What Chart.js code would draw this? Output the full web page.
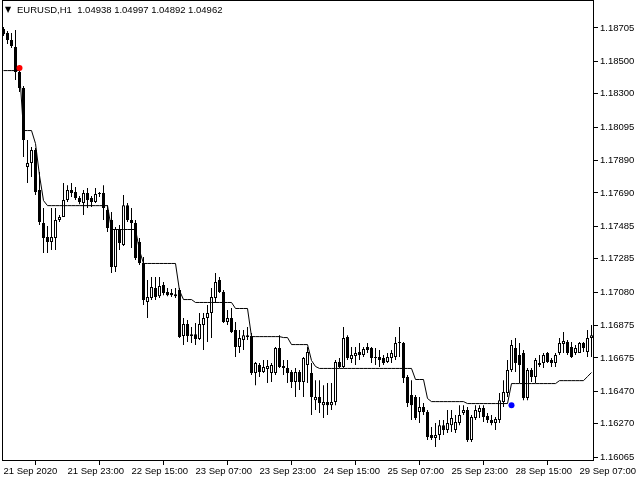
<!DOCTYPE html>
<html><head><meta charset="utf-8">
<script src="https://cdn.jsdelivr.net/npm/chart.js"></script>
<style>
html,body{margin:0;padding:0;background:#fff;}
#wrap{position:relative;width:640px;height:480px;overflow:hidden;}
#c{position:absolute;left:0;top:0;}
.hd{position:absolute;top:4px;line-height:12px;font-family:'Liberation Sans',Arial,sans-serif;font-size:9.5px;color:#000;white-space:pre;}
</style></head><body>
<div id="wrap">
<canvas id="c" width="640" height="480"></canvas>
<div class="hd" style="left:5px;font-family:'DejaVu Sans';font-size:8px;">▼</div>
<div class="hd" style="left:17px;">EURUSD,H1  1.04938 1.04997 1.04892 1.04962</div>
</div>
<script>
// ---- data (EURUSD H1, bars 0..147) ----
const xTickBars   = [0,16,32,48,64,80,96,112,128,144];
const xTickLabels = ['21 Sep 2020','21 Sep 23:00','22 Sep 15:00','23 Sep 07:00','23 Sep 23:00','24 Sep 15:00','25 Sep 07:00','25 Sep 23:00','28 Sep 15:00','29 Sep 07:00'];
const yTickValues = [1.16065,1.16270,1.16470,1.16675,1.16875,1.17080,1.17285,1.17485,1.17690,1.17890,1.18095,1.18300,1.18500,1.18705];

const openP = [1.18699,1.18674,1.18631,1.18588,1.18434,1.18336,1.17849,1.17874,1.17954,1.17708,
1.17505,1.17419,1.17388,1.17413,1.17523,1.17542,1.17646,1.17708,1.17696,1.17659,
1.17628,1.17690,1.17659,1.17634,1.17683,1.17690,1.17585,1.17523,1.17234,1.17462,
1.17369,1.17615,1.17523,1.17505,1.17388,1.17259,1.17019,1.17043,1.17105,1.17055,
1.17123,1.17080,1.17074,1.17067,1.17092,1.16809,1.16883,1.16821,1.16821,1.16791,
1.16877,1.16920,1.16951,1.17043,1.17154,1.17080,1.16896,1.16920,1.16846,1.16742,
1.16785,1.16815,1.16809,1.16582,1.16631,1.16588,1.16607,1.16582,1.16582,1.16736,
1.16625,1.16613,1.16588,1.16526,1.16588,1.16526,1.16631,1.16582,1.16415,1.16434,
1.16384,1.16403,1.16384,1.16403,1.16650,1.16619,1.16803,1.16668,1.16686,1.16711,
1.16692,1.16742,1.16736,1.16680,1.16680,1.16674,1.16650,1.16674,1.16680,1.16767,
1.16767,1.16557,1.16446,1.16434,1.16342,1.16372,1.16342,1.16200,1.16182,1.16200,
1.16261,1.16231,1.16261,1.16231,1.16274,1.16336,1.16354,1.16169,1.16305,1.16342,
1.16366,1.16317,1.16292,1.16274,1.16292,1.16403,1.16459,1.16600,1.16736,1.16692,
1.16705,1.16428,1.16600,1.16557,1.16631,1.16644,1.16705,1.16662,1.16644,1.16705,
1.16760,1.16773,1.16742,1.16705,1.16705,1.16767,1.16711,1.16797];

const highP = [1.18711,1.18686,1.18674,1.18692,1.18477,1.18348,1.18015,1.17972,1.17966,1.17819,
1.17597,1.17486,1.17597,1.17597,1.17554,1.17751,1.17738,1.17751,1.17726,1.17671,
1.17708,1.17720,1.17671,1.17720,1.17696,1.17738,1.17615,1.17573,1.17480,1.17492,
1.17677,1.17628,1.17597,1.17523,1.17413,1.17296,1.17154,1.17172,1.17172,1.17172,
1.17142,1.17105,1.17099,1.17105,1.17105,1.16920,1.16908,1.16865,1.16890,1.16951,
1.16951,1.17000,1.17105,1.17197,1.17172,1.17092,1.16969,1.16982,1.16896,1.16846,
1.16846,1.16865,1.16828,1.16650,1.16644,1.16662,1.16662,1.16644,1.16742,1.16815,
1.16662,1.16662,1.16600,1.16613,1.16600,1.16680,1.16742,1.16644,1.16538,1.16538,
1.16507,1.16520,1.16520,1.16662,1.16674,1.16865,1.16815,1.16742,1.16742,1.16767,
1.16742,1.16767,1.16742,1.16736,1.16723,1.16692,1.16705,1.16723,1.16803,1.16865,
1.16773,1.16569,1.16538,1.16446,1.16434,1.16397,1.16354,1.16249,1.16274,1.16292,
1.16292,1.16354,1.16354,1.16323,1.16384,1.16384,1.16372,1.16323,1.16384,1.16384,
1.16384,1.16336,1.16323,1.16311,1.16459,1.16538,1.16662,1.16785,1.16797,1.16767,
1.16723,1.16613,1.16613,1.16674,1.16692,1.16705,1.16711,1.16674,1.16705,1.16797,
1.16834,1.16785,1.16773,1.16754,1.16773,1.16773,1.16846,1.16877];

const lowP = [1.18655,1.18606,1.18582,1.18385,1.18311,1.17911,1.17751,1.17788,1.17677,1.17492,
1.17320,1.17320,1.17339,1.17339,1.17511,1.17542,1.17634,1.17665,1.17646,1.17621,
1.17554,1.17597,1.17603,1.17628,1.17665,1.17523,1.17450,1.17197,1.17203,1.17339,
1.17363,1.17511,1.17351,1.17277,1.17246,1.17000,1.16920,1.17031,1.17031,1.17043,
1.17061,1.17055,1.17049,1.17043,1.16797,1.16754,1.16773,1.16767,1.16754,1.16785,
1.16723,1.16773,1.16797,1.17013,1.17074,1.16890,1.16877,1.16828,1.16680,1.16705,
1.16723,1.16785,1.16569,1.16507,1.16557,1.16582,1.16520,1.16526,1.16569,1.16613,
1.16569,1.16520,1.16489,1.16434,1.16477,1.16434,1.16520,1.16323,1.16354,1.16336,
1.16305,1.16323,1.16354,1.16384,1.16613,1.16613,1.16662,1.16644,1.16631,1.16662,
1.16680,1.16705,1.16644,1.16631,1.16619,1.16631,1.16644,1.16644,1.16662,1.16680,
1.16520,1.16372,1.16292,1.16292,1.16274,1.16323,1.16169,1.16169,1.16126,1.16169,
1.16200,1.16213,1.16219,1.16213,1.16261,1.16323,1.16157,1.16157,1.16292,1.16305,
1.16280,1.16274,1.16261,1.16231,1.16274,1.16372,1.16434,1.16588,1.16588,1.16520,
1.16415,1.16415,1.16526,1.16520,1.16619,1.16613,1.16644,1.16619,1.16619,1.16692,
1.16705,1.16692,1.16674,1.16692,1.16705,1.16711,1.16680,1.16680];

const closeP = [1.18667,1.18631,1.18594,1.18434,1.18336,1.18015,1.17874,1.17954,1.17696,1.17511,
1.17413,1.17388,1.17419,1.17523,1.17542,1.17646,1.17708,1.17690,1.17659,1.17634,
1.17690,1.17646,1.17634,1.17683,1.17690,1.17597,1.17474,1.17234,1.17468,1.17382,
1.17615,1.17523,1.17505,1.17290,1.17259,1.17031,1.17049,1.17111,1.17049,1.17117,
1.17074,1.17061,1.17061,1.17055,1.16803,1.16883,1.16809,1.16809,1.16791,1.16883,
1.16920,1.16951,1.17049,1.17142,1.17080,1.16896,1.16920,1.16834,1.16742,1.16797,
1.16815,1.16803,1.16582,1.16644,1.16588,1.16619,1.16625,1.16631,1.16736,1.16619,
1.16613,1.16582,1.16526,1.16588,1.16526,1.16674,1.16711,1.16434,1.16434,1.16397,
1.16403,1.16384,1.16403,1.16650,1.16619,1.16797,1.16674,1.16692,1.16705,1.16692,
1.16730,1.16723,1.16674,1.16674,1.16662,1.16644,1.16680,1.16705,1.16767,1.16773,
1.16551,1.16397,1.16384,1.16305,1.16372,1.16342,1.16188,1.16182,1.16200,1.16261,
1.16231,1.16274,1.16305,1.16280,1.16323,1.16354,1.16169,1.16311,1.16354,1.16366,
1.16311,1.16292,1.16274,1.16299,1.16415,1.16465,1.16600,1.16754,1.16644,1.16631,
1.16428,1.16600,1.16557,1.16662,1.16644,1.16692,1.16650,1.16644,1.16692,1.16767,
1.16779,1.16705,1.16680,1.16736,1.16767,1.16736,1.16797,1.16815];

const stopLine = [1.18446,1.18446,1.18446,1.18446,1.18446,1.18077,1.18077,1.18077,1.17997,1.17800,
1.17646,1.17615,1.17615,1.17615,1.17615,1.17615,1.17615,1.17615,1.17615,1.17615,
1.17615,1.17615,1.17615,1.17615,1.17615,1.17615,1.17615,1.17468,1.17468,1.17468,
1.17468,1.17468,1.17468,1.17468,1.17339,1.17259,1.17259,1.17259,1.17259,1.17259,
1.17259,1.17259,1.17259,1.17259,1.17092,1.17037,1.17037,1.17037,1.17019,1.17019,
1.17019,1.17019,1.17019,1.17019,1.17019,1.17019,1.17019,1.17019,1.16982,1.16982,
1.16982,1.16982,1.16809,1.16809,1.16809,1.16809,1.16809,1.16809,1.16809,1.16809,
1.16803,1.16803,1.16760,1.16760,1.16760,1.16760,1.16760,1.16662,1.16625,1.16613,
1.16613,1.16613,1.16613,1.16613,1.16613,1.16613,1.16613,1.16613,1.16613,1.16613,
1.16613,1.16613,1.16613,1.16613,1.16613,1.16613,1.16613,1.16613,1.16613,1.16613,
1.16613,1.16613,1.16613,1.16545,1.16545,1.16545,1.16428,1.16409,1.16409,1.16409,
1.16409,1.16409,1.16409,1.16409,1.16409,1.16409,1.16397,1.16397,1.16397,1.16397,
1.16397,1.16397,1.16397,1.16397,1.16397,1.16397,1.16397,1.16520,1.16520,1.16520,
1.16520,1.16520,1.16520,1.16520,1.16520,1.16520,1.16520,1.16520,1.16520,1.16538,
1.16538,1.16538,1.16538,1.16538,1.16538,1.16538,1.16563,1.16588];

const sellSignalBar = [4],   sellSignalPrice = [1.18459];
const buySignalBar  = [127], buySignalPrice  = [1.16384];

// ---- build datasets ----
const bars = openP.map((_, i) => i);
const bodies = bars.map(i => ({x: i, y: [openP[i], closeP[i]]}));
const wicks  = bars.map(i => ({x: i, y: [lowP[i], highP[i]]}));
const bodyFill = bars.map(i => closeP[i] >= openP[i] ? '#ffffff' : '#000000');
const lineData = bars.map(i => ({x: i, y: stopLine[i]}));
const sellPts = sellSignalBar.map((b, k) => ({x: b, y: sellSignalPrice[k]}));
const buyPts  = buySignalBar.map((b, k) => ({x: b, y: buySignalPrice[k]}));

const FONT = {family: "'Liberation Sans', Arial, sans-serif", size: 9.5};
const Y_MIN = 1.160404, Y_MAX = 1.188773;
const HALF_PX = (Y_MAX - Y_MIN) / 461 / 2;   // half a pixel in price units, for a crisp 1px line

const framePlugin = {
  id: 'frame',
  afterDraw(chart) {
    const {ctx, chartArea: a} = chart;
    ctx.save();
    ctx.strokeStyle = '#000';
    ctx.lineWidth = 1;
    ctx.strokeRect(Math.round(a.left) + 0.5, Math.round(a.top) + 0.5,
                   Math.round(a.right - a.left) - 1, Math.round(a.bottom - a.top) - 1);
    ctx.restore();
  }
};

new Chart(document.getElementById('c'), {
  type: 'bar',
  data: {
    datasets: [
      {type: 'scatter', data: sellPts, pointRadius: 3, pointBackgroundColor: '#ff0000', pointBorderWidth: 0, order: 0},
      {type: 'scatter', data: buyPts, pointRadius: 3, pointBackgroundColor: '#0000ff', pointBorderWidth: 0, order: 0},
      {type: 'line', data: lineData, yAxisID: 'yLine', borderColor: '#000', borderWidth: 1, pointRadius: 0, tension: 0, fill: false, order: 1},
      {type: 'bar', data: bodies, backgroundColor: bodyFill, borderColor: '#000', borderWidth: 1,
       borderSkipped: false, barThickness: 3, grouped: false, inflateAmount: 0, minBarLength: 1, order: 2},
      {type: 'bar', data: wicks, backgroundColor: '#000', borderWidth: 0,
       barThickness: 1, grouped: false, inflateAmount: 0, order: 3}
    ]
  },
  options: {
    responsive: false,
    animation: false,
    events: [],
    layout: {autoPadding: false, padding: {left: 2, top: 0, right: 0, bottom: 0}},
    plugins: {legend: {display: false}, tooltip: {enabled: false}, title: {display: false}},
    scales: {
      x: {
        type: 'linear', position: 'bottom', offset: false,
        min: -0.375, max: 147.625,
        afterBuildTicks: s => { s.ticks = xTickBars.map(v => ({value: v})); },
        afterFit: s => { s.height = 19; s.paddingLeft = 0; s.paddingRight = 0; },
        grid: {display: true, drawOnChartArea: false, drawTicks: true, tickLength: 4, color: '#000'},
        border: {display: false},
        ticks: {
          autoSkip: false, maxRotation: 0, minRotation: 0, align: 'start', padding: 1,
          color: '#000', font: FONT,
          callback: v => { const k = xTickBars.indexOf(v); return k >= 0 ? xTickLabels[k] : ''; }
        }
      },
      y: {
        type: 'linear', position: 'right',
        min: Y_MIN, max: Y_MAX,
        afterBuildTicks: s => { s.ticks = yTickValues.map(v => ({value: v})); },
        afterFit: s => { s.width = 46; s.paddingTop = 0; s.paddingBottom = 0; },
        grid: {display: true, drawOnChartArea: false, drawTicks: true, tickLength: 4, color: '#000'},
        border: {display: false},
        ticks: {
          autoSkip: false, padding: 2, color: '#000', font: FONT,
          callback: v => Number(v).toFixed(5)
        }
      },
      yLine: {
        type: 'linear', position: 'right', display: false,
        min: Y_MIN + HALF_PX, max: Y_MAX + HALF_PX
      }
    }
  },
  plugins: [framePlugin]
});
</script>
</body></html>
